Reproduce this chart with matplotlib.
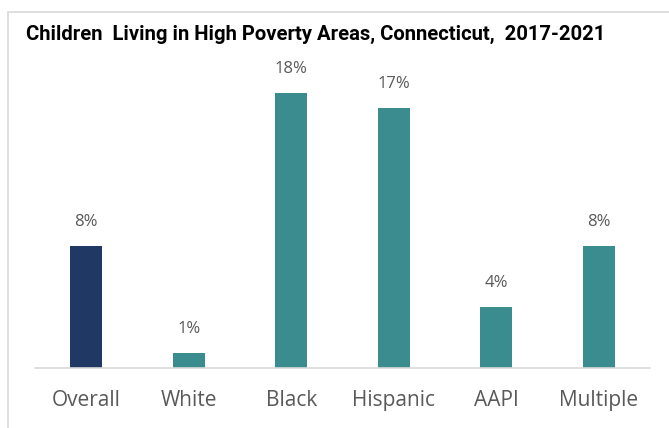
import matplotlib
matplotlib.use('Agg')
import matplotlib.pyplot as plt
from matplotlib.patches import Rectangle

# ---- 数据 ----
groups = ['Overall', 'White', 'Black', 'Hispanic', 'AAPI', 'Multiple']
pct = [8, 1, 18, 17, 4, 8]
bar_colors = ['#1F3864', '#3B8C8F', '#3B8C8F', '#3B8C8F', '#3B8C8F', '#3B8C8F']

fig = plt.figure(figsize=(6.69, 4.28), dpi=100)
fig.patch.set_facecolor('white')

# 外框
fig.patches.append(Rectangle((8 / 669, -0.1), 1.2, 1 - 12 / 428 + 0.1, transform=fig.transFigure,
                             fill=False, edgecolor='#D9D9D9', linewidth=1.2))

ax = fig.add_axes([35 / 669, 1 - 368 / 428, 615 / 669, 306 / 428])
x = range(len(groups))
bars = ax.bar(x, pct, width=0.31, color=bar_colors)

for b, v in zip(bars, pct):
    ax.text(b.get_x() + b.get_width() / 2, v + 1.05, '%d%%' % v, ha='center', va='bottom',
            fontsize=12, color='#595959', family='Open Sans')

ax.set_xlim(-0.5, len(groups) - 0.5)
ax.set_ylim(0, 20)
ax.set_xticks(list(x))
ax.set_xticklabels(groups, fontsize=15, color='#595959', family='Open Sans')
ax.tick_params(axis='x', length=0, pad=16)
ax.set_yticks([])
for s in ['top', 'right', 'left']:
    ax.spines[s].set_visible(False)
ax.spines['bottom'].set_color('#D9D9D9')
ax.spines['bottom'].set_linewidth(1.2)

fig.text(26 / 669, 1 - 34 / 428, 'Children  Living in High Poverty Areas, Connecticut,  2017-2021',
         fontsize=14.6, fontweight='bold', family='Roboto', va='center', ha='left',
         color='black')

fig.savefig('out.png', dpi=100)
